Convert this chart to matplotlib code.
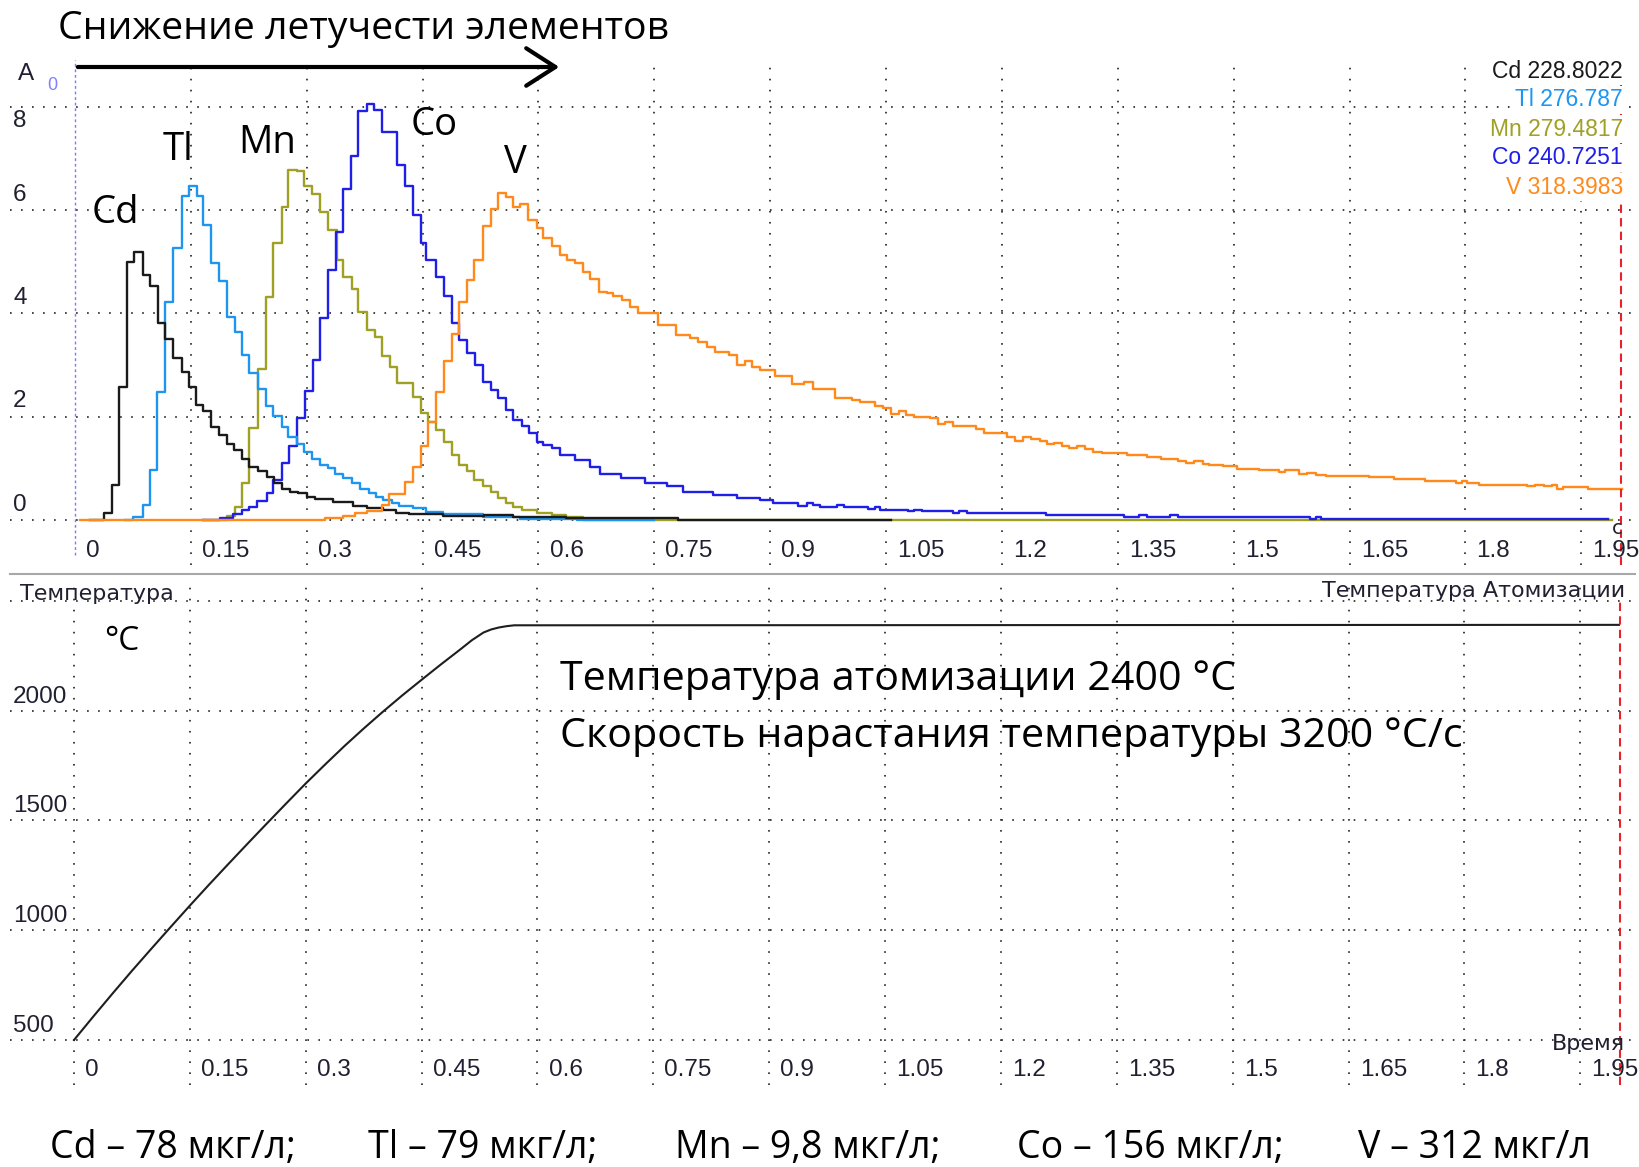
import matplotlib
matplotlib.use('Agg')
import matplotlib.pyplot as plt
from matplotlib.lines import Line2D
from matplotlib.patches import FancyArrowPatch

W, H = 1640, 1167

# absorbance traces, step start times (s) and values
cd_t = [0.02, 0.037, 0.0475, 0.0574, 0.0669, 0.0768, 0.0885, 0.0971, 0.107, 0.1165,
        0.1264, 0.1381, 0.148, 0.1566, 0.1661, 0.1756, 0.1868, 0.1963, 0.2062, 0.2157,
        0.2257, 0.2373, 0.2481, 0.2576, 0.2675, 0.2783, 0.2891, 0.30, 0.311, 0.334,
        0.36, 0.378, 0.399, 0.416, 0.433, 0.477, 0.53, 0.567, 0.636, 0.78, 1.056]
cd_a = [0, 0.13, 0.68, 2.57, 5.0, 5.2, 4.75, 4.53, 3.81, 3.5,
        3.13, 2.87, 2.57, 2.23, 2.12, 1.81, 1.65, 1.48, 1.36, 1.19,
        1.03, 0.94, 0.84, 0.71, 0.61, 0.55, 0.52, 0.45, 0.4, 0.34,
        0.27, 0.24, 0.19, 0.14, 0.12, 0.08, 0.1, 0.06, 0.03, 0.0, 0.0]

tl_t = [0.065, 0.0755, 0.0876, 0.0971, 0.1066, 0.1165, 0.1264, 0.138, 0.148, 0.1575,
        0.166, 0.1756, 0.1868, 0.1963, 0.2071, 0.2157, 0.2257, 0.2373, 0.2472, 0.2567,
        0.2675, 0.2762, 0.287, 0.2964, 0.3064, 0.3172, 0.328, 0.3366, 0.347, 0.358,
        0.369, 0.38, 0.39, 0.399, 0.41, 0.42, 0.438, 0.455, 0.477, 0.528, 0.576, 0.65, 0.75]
tl_a = [0, 0.06, 0.29, 0.97, 2.47, 4.23, 5.26, 6.27, 6.46, 6.27,
        5.71, 4.97, 4.62, 3.94, 3.65, 3.2, 2.85, 2.53, 2.2, 2.01,
        1.81, 1.61, 1.48, 1.32, 1.19, 1.07, 1.0, 0.9, 0.81, 0.71,
        0.61, 0.52, 0.45, 0.39, 0.32, 0.28, 0.23, 0.16, 0.12, 0.06, 0.02, 0.0, 0.0]

mn_t = [0.166, 0.1963, 0.2071, 0.2157, 0.2257, 0.2373, 0.2472, 0.2567, 0.2675, 0.2762,
        0.287, 0.2964, 0.3064, 0.3172, 0.328, 0.3387, 0.3474, 0.3581, 0.3668, 0.3776,
        0.3883, 0.397, 0.4078, 0.4164, 0.438, 0.4475, 0.4574, 0.4673, 0.4777, 0.4876,
        0.4975, 0.5071, 0.5166, 0.5278, 0.5381, 0.548, 0.558, 0.5674, 0.578, 0.598,
        0.617, 0.636, 0.658, 1.99]
mn_a = [0, 0.08, 0.26, 0.71, 1.78, 2.92, 4.31, 5.37, 6.07, 6.78,
        6.75, 6.46, 6.31, 5.97, 5.62, 5.04, 4.71, 4.47, 4.03, 3.68,
        3.54, 3.18, 2.97, 2.65, 2.39, 2.07, 1.9, 1.74, 1.52, 1.26,
        1.07, 0.94, 0.77, 0.65, 0.55, 0.42, 0.32, 0.26, 0.19, 0.14,
        0.1, 0.05, 0.0, 0.0]

co_t = [0.166, 0.1877, 0.205, 0.2157, 0.2257, 0.2352, 0.2481, 0.2567, 0.2675, 0.2775,
        0.287, 0.2977, 0.3077, 0.3172, 0.3279, 0.3379, 0.3474, 0.3569, 0.3668, 0.3776,
        0.387, 0.397, 0.4164, 0.4272, 0.438, 0.4475, 0.455, 0.4673, 0.4777, 0.4876,
        0.4975, 0.5071, 0.518, 0.5278, 0.5381, 0.548, 0.558, 0.5674, 0.578, 0.588,
        0.5976, 0.6063, 0.617, 0.6278, 0.647, 0.667, 0.68, 0.707, 0.738, 0.766,
        0.787, 0.826, 0.857, 0.887, 0.904, 0.936, 0.947, 0.955, 0.965, 0.987,
        0.995, 1.027, 1.035, 1.042, 1.078, 1.086, 1.096, 1.137, 1.144, 1.155,
        1.257, 1.358, 1.377, 1.388, 1.417, 1.428, 1.599, 1.606, 1.613, 1.984]
co_a = [0, 0.03, 0.11, 0.19, 0.26, 0.36, 0.52, 0.77, 1.1, 1.43,
        1.97, 2.49, 3.1, 3.91, 4.84, 5.58, 6.42, 7.05, 7.92, 8.06,
        7.95, 7.52, 6.88, 6.46, 5.91, 5.36, 5.04, 4.71, 4.33, 3.81,
        3.49, 3.23, 3.0, 2.68, 2.52, 2.36, 2.13, 1.94, 1.82, 1.68,
        1.52, 1.45, 1.39, 1.26, 1.16, 1.03, 0.9, 0.81, 0.71, 0.65,
        0.55, 0.48, 0.42, 0.38, 0.325, 0.28, 0.325, 0.29, 0.247, 0.286,
        0.247, 0.208, 0.247, 0.2, 0.17, 0.2, 0.17, 0.136, 0.175, 0.143,
        0.104, 0.065, 0.104, 0.065, 0.104, 0.065, 0.02, 0.065, 0.02, 0.02]

v_t = [0.006, 0.3236, 0.347, 0.362, 0.378, 0.397, 0.406, 0.4272, 0.438, 0.4475,
       0.4574, 0.4673, 0.4777, 0.4876, 0.4975, 0.5071, 0.5166, 0.5278, 0.5381, 0.548,
       0.558, 0.5674, 0.576, 0.5868, 0.5976, 0.6063, 0.617, 0.6278, 0.6365, 0.6472,
       0.6572, 0.6667, 0.6788, 0.6882, 0.6969, 0.7077, 0.7184, 0.7292, 0.7551, 0.778,
       0.7961, 0.8069, 0.8177, 0.8285, 0.847, 0.8565, 0.8673, 0.8759, 0.8867, 0.906,
       0.928, 0.944, 0.955, 0.984, 1.006, 1.016, 1.035, 1.046, 1.056, 1.067,
       1.076, 1.086, 1.107, 1.117, 1.126, 1.137, 1.166, 1.177, 1.187, 1.206,
       1.217, 1.227, 1.238, 1.249, 1.258, 1.267, 1.278, 1.287, 1.297, 1.308,
       1.318, 1.329, 1.362, 1.388, 1.406, 1.428, 1.438, 1.449, 1.46, 1.468,
       1.486, 1.504, 1.533, 1.559, 1.566, 1.584, 1.595, 1.606, 1.62, 1.675,
       1.708, 1.748, 1.788, 1.795, 1.802, 1.817, 1.879, 1.89, 1.901, 1.912,
       1.919, 1.926, 1.959, 2.002]
v_a = [0, 0.03, 0.08, 0.13, 0.18, 0.29, 0.5, 0.74, 1.03, 1.43,
       1.9, 2.47, 3.07, 3.6, 4.23, 4.65, 5.04, 5.69, 6.02, 6.34,
       6.26, 6.06, 6.13, 5.81, 5.65, 5.46, 5.31, 5.13, 5.04, 4.97,
       4.81, 4.66, 4.42, 4.39, 4.34, 4.26, 4.13, 4.0, 3.78, 3.58,
       3.52, 3.45, 3.36, 3.26, 3.2, 3.0, 3.07, 2.97, 2.9, 2.79,
       2.64, 2.68, 2.53, 2.36, 2.32, 2.29, 2.21, 2.16, 2.06, 2.11,
       2.03, 2.0, 1.97, 1.86, 1.89, 1.82, 1.77, 1.69, 1.68, 1.6,
       1.53, 1.61, 1.56, 1.53, 1.47, 1.49, 1.43, 1.4, 1.44, 1.38,
       1.32, 1.29, 1.25, 1.22, 1.18, 1.14, 1.11, 1.14, 1.09, 1.06,
       1.04, 0.99, 0.96, 0.93, 0.96, 0.9, 0.92, 0.88, 0.86, 0.83,
       0.79, 0.75, 0.71, 0.75, 0.71, 0.68, 0.65, 0.68, 0.65, 0.68,
       0.6, 0.64, 0.6, 0.6]

# furnace temperature (°C)
temp_t = [0, 0.025, 0.05, 0.075, 0.10, 0.125, 0.15, 0.175, 0.20, 0.225, 0.25, 0.275,
          0.30, 0.325, 0.35, 0.375, 0.40, 0.425, 0.45, 0.475, 0.50, 0.515, 0.53, 0.54,
          0.55, 0.56, 0.57, 2.0]
temp_v = [500, 607, 712, 815, 915, 1014, 1112, 1208, 1302, 1395, 1487, 1578,
          1668, 1754, 1838, 1918, 1995, 2069, 2140, 2210, 2278, 2320, 2355, 2369,
          2378, 2384, 2388, 2390]

elements = ['Cd', 'Tl', 'Mn', 'Co', 'V']
wavelengths = ['228.8022', '276.787', '279.4817', '240.7251', '318.3983']
concentrations = ['78 мкг/л;', '79 мкг/л;', '9,8 мкг/л;', '156 мкг/л;', '312 мкг/л']
colors = ['#1a1a1a', '#1e96f0', '#a0a024', '#1f1fe8', '#ff8a1c']

x_ticks = [0, 0.15, 0.3, 0.45, 0.6, 0.75, 0.9, 1.05, 1.2, 1.35, 1.5, 1.65, 1.8, 1.95]
x_labels = ['0', '0.15', '0.3', '0.45', '0.6', '0.75', '0.9', '1.05', '1.2', '1.35',
            '1.5', '1.65', '1.8', '1.95']
a_ticks = [0, 2, 4, 6, 8]
t_ticks = [500, 1000, 1500, 2000, 2500]

DIG = ['Liberation Sans', 'DejaVu Sans']
LEG = ['Liberation Sans Narrow', 'Liberation Sans', 'DejaVu Sans']
CYR = ['DejaVu Sans']
ANN = ['Open Sans', 'DejaVu Sans']
LBL = '#202030'
GRID = dict(color='#303030', lw=1.3, ls=(0, (0.9, 5.2)))
TICK_FS = 17.5


def fx(px):
    return px / W


def fy(py):
    return 1 - py / H


fig = plt.figure(figsize=(W / 100, H / 100), dpi=100)

# top panel: absorbance
ax1 = fig.add_axes([fx(10), fy(565), 1625 / W, 505 / H])
ax1.set_xlim((10 - 75) / 772.5, (1635 - 75) / 772.5)
ax1.set_ylim(-45 / 51.63, 460 / 51.63)
ax1.axis('off')
for v in x_ticks[1:]:
    ax1.axvline(v, **GRID)
for v in a_ticks:
    ax1.axhline(v, **GRID)
ax1.axvline(0, color='#7a7aff', lw=1, ls=(0, (2, 2)), ymin=0.02)
for v, s in zip(x_ticks, x_labels):
    ax1.annotate(s, (v, -0.6), xytext=(8, 0), textcoords='offset points',
                 ha='left', va='center', fontsize=TICK_FS, family=DIG, color=LBL)
for v in a_ticks:
    off = -10 if v == 8 else 11
    ax1.annotate(str(v), (0.002, v), xycoords=('axes fraction', 'data'),
                 xytext=(0, off), textcoords='offset points',
                 ha='left', va='center', fontsize=TICK_FS, family=DIG, color=LBL)

order = [2, 3, 1, 0, 4]
traces = [(cd_t, cd_a), (tl_t, tl_a), (mn_t, mn_a), (co_t, co_a), (v_t, v_a)]
for i in order:
    t, a = traces[i]
    ax1.step(t, a, where='post', color=colors[i], lw=1.7)
ax1.axvline(2.001, ymax=0.96, color='#e8212b', lw=1.5, ls=(0, (4, 2.5)))

# bottom panel: temperature
ax2 = fig.add_axes([fx(10), fy(1085), 1625 / W, 507 / H])
ax2.set_xlim((10 - 74) / 772.5, (1635 - 74) / 772.5)
ax2.set_ylim(500 - 45 / 0.2197, 2500 + 22.7 / 0.2197)
ax2.axis('off')
for v in x_ticks:
    ax2.axvline(v, ymax=0.985, **GRID)
for v in t_ticks:
    ax2.axhline(v, **GRID)
for v, s in zip(x_ticks, x_labels):
    ax2.annotate(s, (v, 500 - 30 / 0.2197), xytext=(8, 0), textcoords='offset points',
                 ha='left', va='center', fontsize=TICK_FS, family=DIG, color=LBL)
for v in t_ticks[:-1]:
    ax2.annotate(str(v), (0.002, v), xycoords=('axes fraction', 'data'),
                 xytext=(0, 10), textcoords='offset points',
                 ha='left', va='center', fontsize=TICK_FS, family=DIG, color=LBL)
ax2.plot(temp_t, temp_v, color='#1e1e1e', lw=1.5)
ax2.axvline(2.001, ymax=0.96, color='#e8212b', lw=1.5, ls=(0, (4, 2.5)))

# separator between panels
fig.add_artist(Line2D([fx(10), fx(1635)], [fy(574), fy(574)], transform=fig.transFigure,
                      color='#a8a8a8', lw=1.5))

# software labels
fig.text(fx(18), fy(74), 'A', fontsize=TICK_FS, family=DIG, color=LBL, va='center')
fig.text(fx(47), fy(85), '0', fontsize=13, family=LEG, color='#8080ff', va='center')
for k, (el, wl) in enumerate(zip(elements, wavelengths)):
    fig.text(fx(1623), fy(71 + 29 * k), el + ' ' + wl, ha='right', va='center',
             fontsize=16.5, family=LEG, color=colors[k],
             bbox=dict(facecolor='white', edgecolor='none', pad=1.5))
fig.text(fx(1612), fy(528), 'c', fontsize=14, family=CYR, color=LBL, va='center')
fig.text(fx(20), fy(594), 'Температура', fontsize=16, family=CYR, color=LBL, va='center')
fig.text(fx(1625), fy(591), 'Температура Атомизации', fontsize=16, family=CYR,
         color=LBL, ha='right', va='center')
fig.text(fx(1625), fy(1044), 'Время', fontsize=16, family=CYR, color=LBL,
         ha='right', va='center')

# slide annotations
fig.text(fx(58), fy(39), 'Снижение летучести элементов', fontsize=28.3, family=ANN,
         va='baseline')
fig.add_artist(FancyArrowPatch((fx(75), fy(67)), (fx(562), fy(67)),
                               transform=fig.transFigure, arrowstyle='->,head_length=0.7,head_width=0.45',
                               mutation_scale=30, lw=3, color='black'))
peak_pos = [(115, 223), (178, 160), (267, 153), (434, 135), (515, 173)]
for el, (px, py) in zip(elements, peak_pos):
    fig.text(fx(px), fy(py), el, fontsize=27.5, family=ANN, ha='center', va='baseline')
fig.text(fx(122), fy(650), '°C', fontsize=24, family=ANN, ha='center', va='baseline')
fig.text(fx(560), fy(690), 'Температура атомизации 2400 °C', fontsize=29.7, family=ANN,
         va='baseline')
fig.text(fx(560), fy(747), 'Скорость нарастания температуры 3200 °C/с', fontsize=29.7,
         family=ANN, va='baseline')
conc_x = [50, 368, 675, 1017, 1358]
for el, c, px in zip(elements, concentrations, conc_x):
    fig.text(fx(px), fy(1158), el + ' – ' + c, fontsize=27, family=ANN, va='baseline')

fig.savefig('out.png', dpi=100)
